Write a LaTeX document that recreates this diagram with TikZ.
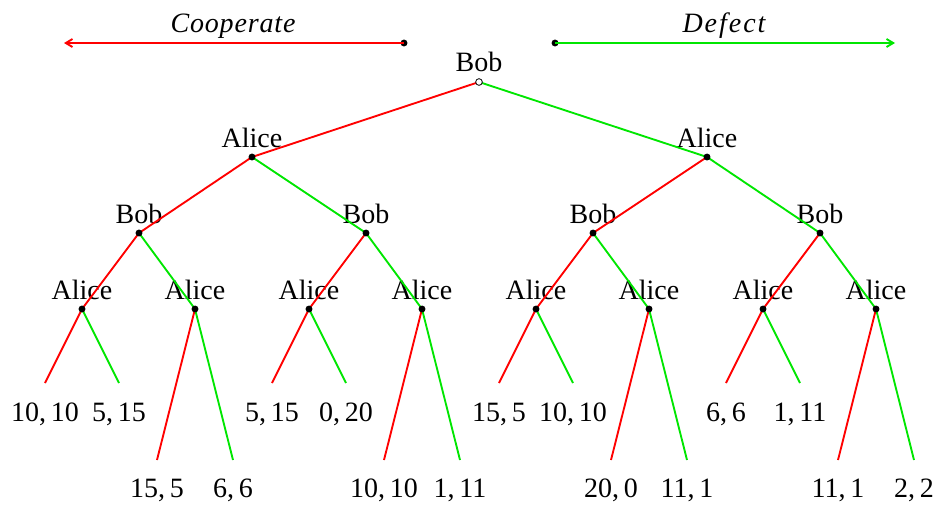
\documentclass[tikz,border=0pt]{standalone}
\usepackage{fontspec}
\setmainfont{Liberation Serif}
\usetikzlibrary{arrows.meta}
\definecolor{cred}{RGB}{255,0,0}
\definecolor{cgreen}{RGB}{0,230,0}
\begin{document}
\begin{tikzpicture}[x=0.75pt,y=-0.75pt,
  every node/.style={font=\fontsize{21}{24}\selectfont},
  dot/.style={circle,fill=black,inner sep=0pt,minimum size=5.2pt},
  odot/.style={circle,draw=black,fill=white,line width=0.6pt,inner sep=0pt,minimum size=5pt},
  lbl/.style={anchor=base,inner sep=0pt},
  coop/.style={cred,line width=1.4pt},
  defe/.style={cgreen,line width=1.4pt},
  tip/.style={-{Straight Barb[length=5pt,width=6pt]}}]
\useasboundingbox (0,0) rectangle (937,504);

% legend
\coordinate (ce) at (64,43);
\coordinate (de) at (895,43);
\node[dot] (cs) at (404,43) {};
\node[dot] (ds) at (555,43) {};
\node[lbl] (ct) at (233,32) {\addfontfeature{LetterSpace=3}\itshape Cooperate};
\node[lbl] (dt) at (724,32) {\addfontfeature{LetterSpace=7}\itshape Defect};
\draw[coop,tip] (cs.center) -- (ce);
\draw[defe,tip] (ds.center) -- (de);

% labels
\node[lbl] (rl) at (479,71) {Bob};
\foreach \n/\x in {L1/252,L2/707}
  \node[lbl] (\n l) at (\x,147) {Alice};
\foreach \n/\x in {B1/139,B2/366,B3/593,B4/820}
  \node[lbl] (\n l) at (\x,223) {Bob};
\foreach \n/\x in {A1/82,A2/195,A3/309,A4/422,A5/536,A6/649,A7/763,A8/876}
  \node[lbl] (\n l) at (\x,299) {Alice};

% decision points
\coordinate (R) at (479,82);
\coordinate (L1) at (252,157);
\coordinate (L2) at (707,157);
\foreach \n/\x in {B1/139,B2/366,B3/593,B4/820}
  \coordinate (\n) at (\x,233);
\foreach \n/\x in {A1/82,A2/195,A3/309,A4/422,A5/536,A6/649,A7/763,A8/876}
  \coordinate (\n) at (\x,309);

% edges
\draw[coop] (R) -- (L1);
\draw[defe] (R) -- (L2);
\draw[coop] (L1) -- (B1);
\draw[defe] (L1) -- (B2);
\draw[coop] (L2) -- (B3);
\draw[defe] (L2) -- (B4);
\foreach \p/\a/\b in {B1/A1/A2,B2/A3/A4,B3/A5/A6,B4/A7/A8}{
  \draw[coop] (\p) -- (\a);
  \draw[defe] (\p) -- (\b);
}

% leaves
\foreach \n/\x/\dx/\ye/\yl/\pl/\pr in {
  A1/82/37/383/421/{10,\,10}/{5,\,15},
  A2/195/38/460/497/{15,\,5}/{6,\,6},
  A3/309/37/383/421/{5,\,15}/{0,\,20},
  A4/422/38/460/497/{10,\,10}/{1,\,11},
  A5/536/37/383/421/{15,\,5}/{10,\,10},
  A6/649/38/460/497/{20,\,0}/{11,\,1},
  A7/763/37/383/421/{6,\,6}/{1,\,11},
  A8/876/38/460/497/{11,\,1}/{2,\,2}}{
  \coordinate (\n c) at (\x-\dx,\ye);
  \coordinate (\n d) at (\x+\dx,\ye);
  \draw[coop] (\n) -- (\n c);
  \draw[defe] (\n) -- (\n d);
  \node[lbl] (\n cp) at (\x-\dx,\yl) {\pl};
  \node[lbl] (\n dp) at (\x+\dx,\yl) {\pr};
}

% dots on top
\node[odot] (Rd) at (R) {};
\foreach \n in {L1,L2,B1,B2,B3,B4,A1,A2,A3,A4,A5,A6,A7,A8}
  \node[dot] (\n dot) at (\n) {};
\end{tikzpicture}
\end{document}
